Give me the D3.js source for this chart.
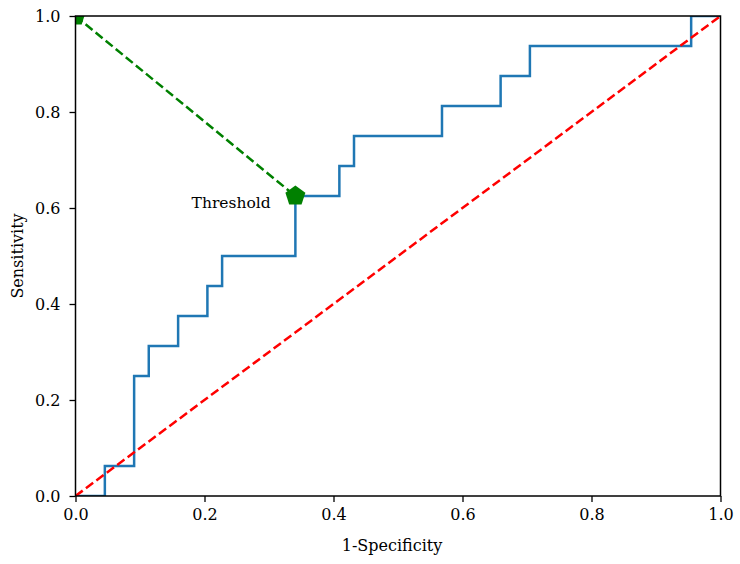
<!DOCTYPE html>
<html>
<head>
<meta charset="utf-8">
<script src="https://cdn.jsdelivr.net/npm/d3@7"></script>
<style>
  html, body { margin: 0; padding: 0; background: #fff; }
  svg { display: block; }
  text { font-family: "DejaVu Serif", serif; fill: #000; }
</style>
</head>
<body>
<svg id="chart" width="740" height="564"></svg>
<script>
// ROC curve points (step-after): 1-Specificity, Sensitivity
const fpr = [0, 0.0455, 0.0909, 0.1136, 0.1591, 0.2045, 0.2273, 0.3409, 0.4091, 0.4318, 0.5682, 0.6591, 0.7045, 0.9545, 1.0];
const tpr = [0, 0.0625, 0.25, 0.3125, 0.375, 0.4375, 0.5, 0.625, 0.6875, 0.75, 0.8125, 0.875, 0.9375, 1.0, 1.0];
// Chance diagonal
const diagX = [0, 1];
const diagY = [0, 1];
// Line from ideal corner to the chosen threshold
const thrLineX = [0, 0.3409];
const thrLineY = [1, 0.625];
const thresholdLabel = "Threshold";
const labelPos = [0.18, 0.60];
const tickValues = [0, 0.2, 0.4, 0.6, 0.8, 1.0];
const xLabel = "1-Specificity";
const yLabel = "Sensitivity";

const svg = d3.select("#chart");
const L = 75.5, R = 720.5, T = 16, B = 496;
const x = d3.scaleLinear().domain([0, 1]).range([L, R]);
const y = d3.scaleLinear().domain([0, 1]).range([B, T]);

svg.append("defs").append("clipPath").attr("id", "clip")
  .append("rect").attr("x", L).attr("y", T).attr("width", R - L).attr("height", B - T);

const plot = svg.append("g").attr("clip-path", "url(#clip)");

const roc = fpr.map((v, i) => [v, tpr[i]]);
plot.append("path")
  .datum(roc)
  .attr("d", d3.line().x(d => x(d[0])).y(d => y(d[1])).curve(d3.curveStepAfter))
  .attr("fill", "none").attr("stroke", "#1f77b4").attr("stroke-width", 2.5)
  .attr("stroke-linejoin", "miter").attr("stroke-linecap", "butt");

const lineGen = d3.line().x(d => x(d[0])).y(d => y(d[1]));
plot.append("path")
  .datum(diagX.map((v, i) => [v, diagY[i]]))
  .attr("d", lineGen)
  .attr("fill", "none").attr("stroke", "#ff0000").attr("stroke-width", 2.5)
  .attr("stroke-dasharray", "9,4");

const thr = thrLineX.map((v, i) => [v, thrLineY[i]]);
plot.append("path")
  .datum(thr)
  .attr("d", lineGen)
  .attr("fill", "none").attr("stroke", "#008000").attr("stroke-width", 2.5)
  .attr("stroke-dasharray", "9,4");

const pent = d3.range(5).map(k => {
  const a = -Math.PI / 2 + k * 2 * Math.PI / 5;
  return [10.5 * Math.cos(a), 10.5 * Math.sin(a)];
});
plot.selectAll("polygon.mk").data(thr).enter().append("polygon")
  .attr("class", "mk")
  .attr("points", pent.map(p => p.join(",")).join(" "))
  .attr("transform", d => `translate(${x(d[0])},${y(d[1])})`)
  .attr("fill", "#008000");

svg.append("text")
  .attr("x", x(labelPos[0])).attr("y", y(labelPos[1]))
  .attr("font-size", 15.5)
  .text(thresholdLabel);

// Axes
const fmt = d3.format(".1f");
const xAxis = svg.append("g").attr("transform", `translate(0,${B})`)
  .call(d3.axisBottom(x).tickValues(tickValues).tickFormat(fmt).tickSize(6).tickSizeOuter(0).tickPadding(7));
const yAxis = svg.append("g").attr("transform", `translate(${L},0)`)
  .call(d3.axisLeft(y).tickValues(tickValues).tickFormat(fmt).tickSize(6).tickSizeOuter(0).tickPadding(9));
[xAxis, yAxis].forEach(g => {
  g.select(".domain").remove();
  g.selectAll("line").attr("stroke", "#000").attr("stroke-width", 1.3);
  g.selectAll("text").attr("font-family", "DejaVu Serif, serif").attr("font-size", 16).attr("fill", "#000");
});

// Frame
svg.append("rect").attr("x", L).attr("y", T).attr("width", R - L).attr("height", B - T)
  .attr("fill", "none").attr("stroke", "#000").attr("stroke-width", 1.5);

svg.append("text").attr("x", (L + R) / 2 - 6).attr("y", 551)
  .attr("text-anchor", "middle").attr("font-size", 16).text(xLabel);
svg.append("text")
  .attr("transform", `translate(23,${(T + B) / 2}) rotate(-90)`)
  .attr("text-anchor", "middle").attr("font-size", 16).text(yLabel);
</script>
</body>
</html>
